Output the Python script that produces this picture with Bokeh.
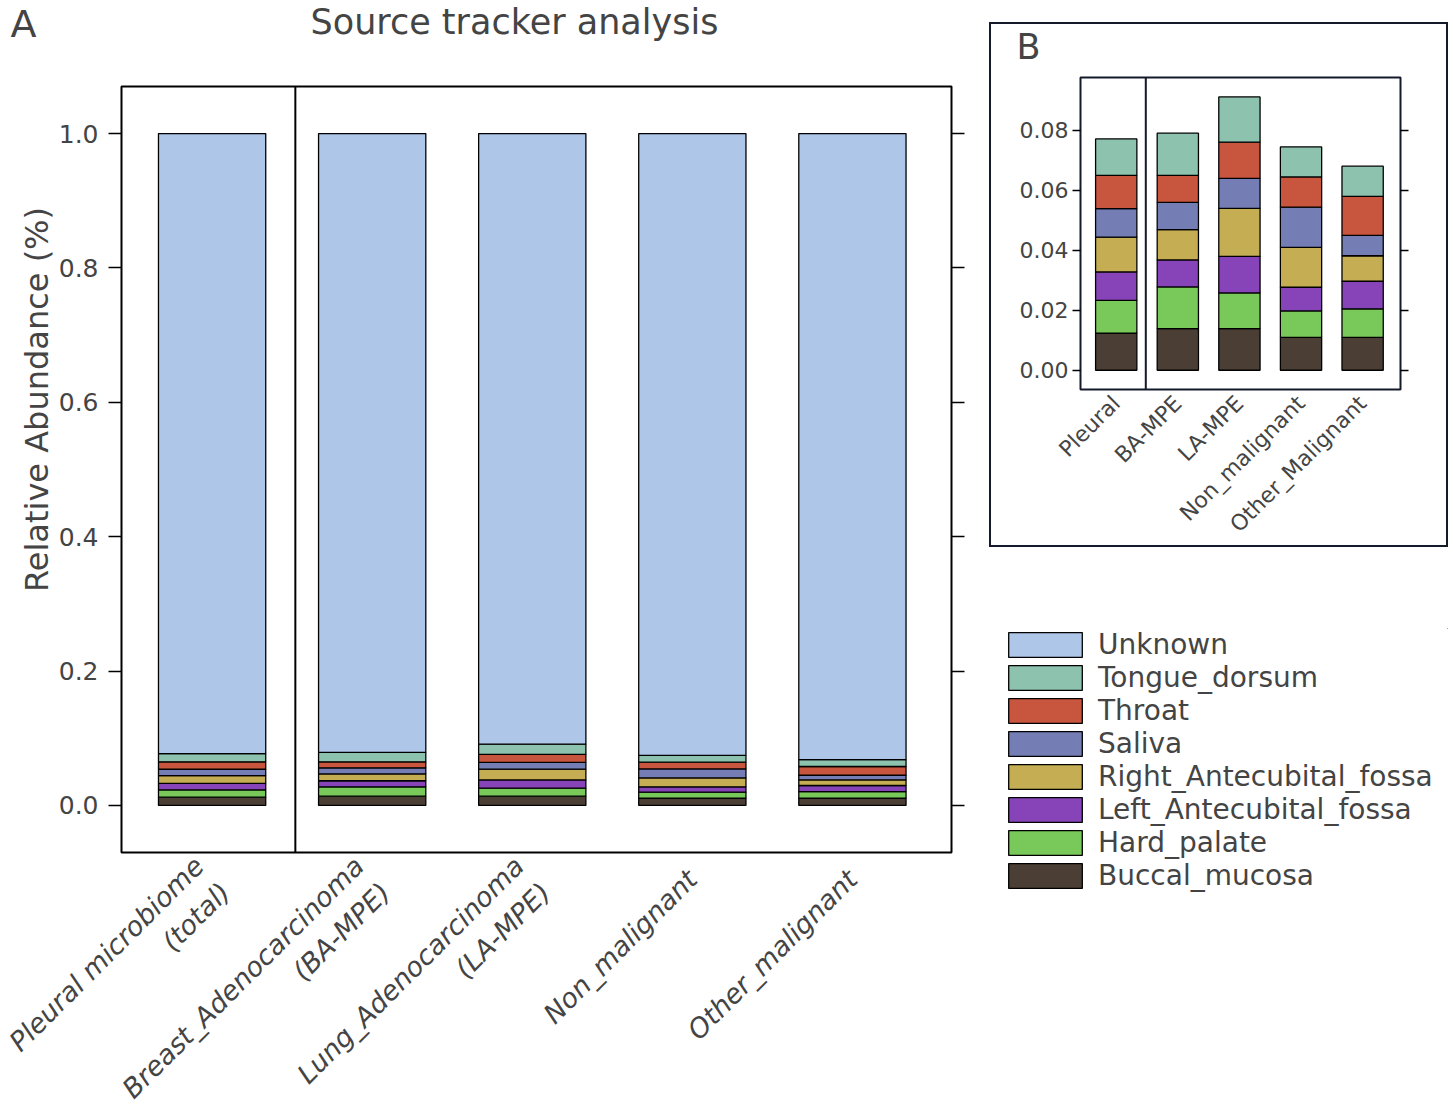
import math
from bokeh.plotting import figure
from bokeh.layouts import row, column
from bokeh.models import (Range1d, FixedTicker, LinearAxis, Span, Label, Legend,
                          LegendItem, PrintfTickFormatter, Spacer, ColumnDataSource)
from bokeh.embed import file_html
from bokeh.resources import INLINE

# ---------------- data ----------------
labels_A = ["Pleural microbiome\n(total)", "Breast_Adenocarcinoma\n(BA-MPE)",
            "Lung_Adenocarcinoma\n(LA-MPE)", "Non_malignant", "Other_malignant"]
labels_B = ["Pleural", "BA-MPE", "LA-MPE", "Non_malignant", "Other_Malignant"]
sources = ["Buccal_mucosa", "Hard_palate", "Left_Antecubital_fossa",
           "Right_Antecubital_fossa", "Saliva", "Throat", "Tongue_dorsum", "Unknown"]
buccal_mucosa = [0.0124, 0.0139, 0.0139, 0.0110, 0.0110]
hard_palate = [0.0109, 0.0139, 0.0119, 0.0088, 0.0095]
left_antecubital = [0.0095, 0.0090, 0.0122, 0.0079, 0.0092]
right_antecubital = [0.0116, 0.0101, 0.0160, 0.0133, 0.0085]
saliva = [0.0095, 0.0091, 0.0100, 0.0134, 0.0068]
throat = [0.0111, 0.0090, 0.0121, 0.0101, 0.0130]
tongue_dorsum = [0.0122, 0.0141, 0.0151, 0.0100, 0.0101]
unknown = [0.9228, 0.9209, 0.9088, 0.9255, 0.9319]
ticks_A = [0.0, 0.2, 0.4, 0.6, 0.8, 1.0]
ticks_B = [0.00, 0.02, 0.04, 0.06, 0.08]

colors = ["#4b3f35", "#78c85a", "#8744b8", "#c4ad53", "#757eb4", "#c8553d", "#8cc2ae", "#aec6e8"]
series = [buccal_mucosa, hard_palate, left_antecubital, right_antecubital,
          saliva, throat, tongue_dorsum, unknown]

FONT = "DejaVu Sans"
xs = list(range(len(labels_A)))
data = {"x": xs}
for name, vals in zip(sources, series):
    data[name] = vals
src = ColumnDataSource(data)


def style_y(ax, ticks, fmt, tick_len, size, standoff):
    ax.ticker = FixedTicker(ticks=ticks)
    ax.formatter = PrintfTickFormatter(format=fmt)
    ax.axis_line_color = None
    ax.major_tick_out = tick_len
    ax.major_tick_in = 0
    ax.minor_tick_line_color = None
    ax.major_tick_line_width = 1.5
    ax.major_label_text_font = FONT
    ax.major_label_text_font_size = size
    ax.major_label_standoff = standoff


# ---------------- panel A ----------------
pA = figure(frame_width=830, frame_height=766, output_backend="svg", toolbar_location=None,
            x_range=Range1d(-0.566, 4.619), y_range=Range1d(-0.07, 1.07),
            min_border_left=121, min_border_right=38, min_border_top=86, min_border_bottom=200)
pA.grid.visible = False
pA.outline_line_color = "black"
pA.outline_line_width = 2
pA.vbar_stack(sources, x="x", width=0.67, source=src, fill_color=colors,
              line_color="black", line_width=1.3)
pA.add_layout(Span(location=0.52, dimension="height", line_color="black", line_width=2))

style_y(pA.yaxis[0], ticks_A, "%.1f", 13, "25px", 10)
yr = LinearAxis()
style_y(yr, ticks_A, "%.1f", 13, "1px", 0)
yr.major_label_text_color = None
pA.add_layout(yr, "right")

xa = pA.xaxis[0]
xa.ticker = FixedTicker(ticks=xs)
xa.major_label_overrides = {i: lab for i, lab in enumerate(labels_A)}
xa.major_label_orientation = math.pi / 4
xa.major_label_text_font = FONT
xa.major_label_text_font_style = "italic"
xa.major_label_text_font_size = "27px"
xa.major_label_standoff = 16
xa.axis_line_color = None
xa.major_tick_line_color = None
xa.minor_tick_line_color = None

# texts placed in side panels (canvas pixel anchors)
pA.add_layout(Label(x=310, y=21, x_units="canvas", y_units="canvas",
                    text="Source tracker analysis", text_font=FONT, text_font_size="35px",
                    text_align="left", text_baseline="alphabetic"), "above")
pA.add_layout(Label(x=36, y=399, x_units="canvas", y_units="canvas", angle=math.pi / 2,
                    text="Relative Abundance (%)", text_font=FONT, text_font_size="32px",
                    text_align="center", text_baseline="alphabetic"), "left")
pA.add_layout(Label(x=10, y=23, x_units="canvas", y_units="canvas", text="A",
                    text_font=FONT, text_font_size="38px", text_align="left",
                    text_baseline="alphabetic"), "below")

# ---------------- panel B ----------------
pB = figure(frame_width=316, frame_height=308, output_backend="svg", toolbar_location=None,
            x_range=Range1d(-0.58, 4.615), y_range=Range1d(-0.00642, 0.09768),
            min_border_left=89, min_border_right=50, min_border_top=53, min_border_bottom=160,
            styles={"border": "2px solid #151a2a", "box-sizing": "border-box"})
pB.grid.visible = False
pB.outline_line_color = "#151a2a"
pB.outline_line_width = 2
pB.vbar_stack(sources[:-1], x="x", width=0.67, source=src, fill_color=colors[:-1],
              line_color="black", line_width=1.3)
pB.add_layout(Span(location=0.48, dimension="height", line_color="#151a2a", line_width=2))

style_y(pB.yaxis[0], ticks_B, "%.2f", 8, "22px", 4)
ybr = LinearAxis()
style_y(ybr, ticks_B, "%.2f", 8, "1px", 0)
ybr.major_label_text_color = None
pB.add_layout(ybr, "right")

xb = pB.xaxis[0]
xb.ticker = FixedTicker(ticks=xs)
xb.major_label_overrides = {i: lab for i, lab in enumerate(labels_B)}
xb.major_label_orientation = math.pi / 4
xb.major_label_text_font = FONT
xb.major_label_text_font_size = "22px"
xb.major_label_standoff = 4
xb.axis_line_color = None
xb.major_tick_line_color = None
xb.minor_tick_line_color = None

pB.add_layout(Label(x=23, y=20, x_units="canvas", y_units="canvas", text="B",
                    text_font=FONT, text_font_size="35px", text_align="left",
                    text_baseline="alphabetic"), "above")

# ---------------- legend ----------------
pL = figure(width=459, height=290, output_backend="svg", toolbar_location=None,
            x_axis_location=None, y_axis_location=None,
            x_range=Range1d(0, 1), y_range=Range1d(0, 1),
            min_border_left=10, min_border_right=0, min_border_top=0, min_border_bottom=0)
pL.grid.visible = False
pL.outline_line_color = None
items = []
for name, col in zip(sources, colors):
    r = pL.vbar(x=[50], top=[51], bottom=[50], width=0.1, fill_color=col,
                line_color="black", line_width=1.3)
    items.append(LegendItem(label=name, renderers=[r]))
items = items[::-1]
leg = Legend(items=items, location="top_left", glyph_width=92, glyph_height=31,
             label_height=31, label_standoff=7, spacing=0, padding=0, margin=0,
             border_line_color=None, background_fill_alpha=0,
             label_text_font=FONT, label_text_font_size="28px")
pL.add_layout(leg, "center")

layout = row(pA, column(Spacer(height=22), pB, Spacer(height=81), row(pL)))

open("out.html", "w").write(file_html(layout, INLINE))
